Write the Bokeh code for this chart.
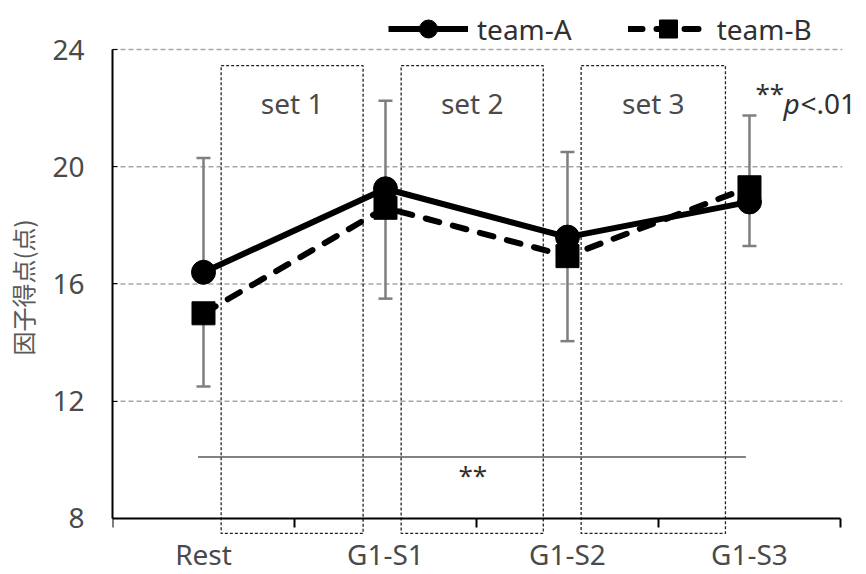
from bokeh.plotting import figure
from bokeh.models import (FixedTicker, Legend, LegendItem, BoxAnnotation, Whisker,
                          ColumnDataSource, Range1d, TeeHead)
from bokeh.core.properties import value
from bokeh.embed import file_html
from bokeh.resources import INLINE

# --- data -------------------------------------------------------------
categories = ["Rest", "G1-S1", "G1-S2", "G1-S3"]
team_a = [16.4, 19.25, 17.6, 18.8]
team_b = [15.0, 18.6, 16.95, 19.3]
team_a_err_up = [3.9, 3.0, 2.9, 2.95]
team_b_err_down = [2.5, 3.1, 2.9, 2.0]
y_ticks = [8, 12, 16, 20, 24]
set_labels = ["set 1", "set 2", "set 3"]
series_labels = ["team-A", "team-B"]
y_label = "因子得点(点)"
sig_mark = "**"

# --- styling ----------------------------------------------------------
LATIN = value("Noto Sans")
CJK = "Noto Sans CJK JP"
TEXT = "#4a4a4a"
DARK = "#303030"
ERR = "#7f7f7f"

xs = [i + 0.5 for i in range(len(categories))]
y_min, y_max = y_ticks[0], y_ticks[-1]

# frame covers the full canvas height; the x axis sits at y = 8
p = figure(width=866, height=574, x_range=Range1d(0, 4.143), y_range=Range1d(6.089, 25.672),
           output_backend="svg", toolbar_location=None,
           min_border_left=112, min_border_right=0, min_border_top=0, min_border_bottom=0,
           outline_line_color=None, background_fill_color="white", border_fill_color="white")
p.grid.visible = False

# y axis
ya = p.yaxis[0]
ya.ticker = FixedTicker(ticks=y_ticks)
ya.bounds = (y_min, y_max)
ya.axis_line_width = 2
ya.axis_line_color = "black"
ya.major_tick_in = 5
ya.major_tick_out = 0
ya.major_tick_line_color = "black"
ya.minor_tick_line_color = None
ya.major_label_standoff = 28
ya.major_label_text_font = "Noto Sans"
ya.major_label_text_font_size = "28px"
ya.major_label_text_color = TEXT
ya.axis_label = y_label
ya.axis_label_text_font = CJK
ya.axis_label_text_font_size = "24px"
ya.axis_label_text_font_style = "normal"
ya.axis_label_text_color = "#595959"
ya.axis_label_standoff = 9

# x axis: labels at category centres, tick marks at category boundaries
xa = p.xaxis[0]
xa.fixed_location = y_min
xa.ticker = FixedTicker(ticks=xs, minor_ticks=list(range(len(categories) + 1)))
xa.major_label_overrides = {x: c for x, c in zip(xs, categories)}
xa.bounds = (0, len(categories))
xa.axis_line_width = 2
xa.axis_line_color = "black"
xa.major_tick_line_color = None
xa.major_tick_in = 0
xa.major_tick_out = 0
xa.minor_tick_in = 0
xa.minor_tick_out = 9
xa.minor_tick_line_width = 2
xa.minor_tick_line_color = "black"
xa.major_label_standoff = 8
xa.major_label_text_font = "Noto Sans"
xa.major_label_text_font_size = "28px"
xa.major_label_text_color = TEXT

# dashed horizontal grid lines
p.segment(x0=0, x1=len(categories) + 0.01, y0=y_ticks[1:], y1=y_ticks[1:],
          line_color="#a6a6a6", line_width=1.3, line_dash="5 3", level="underlay")

# dotted boxes marking the three sets
set_bounds = [(0.597, 1.377), (1.586, 2.367), (2.575, 3.368)]
for (l, r) in set_bounds:
    p.add_layout(BoxAnnotation(left=l, right=r, top=23.45, bottom=7.49,
                               fill_color=None, fill_alpha=0, line_color="#222222",
                               line_alpha=1, line_width=1.3, line_dash="3 2",
                               level="underlay"))
p.text(x=[(l + r) / 2 for l, r in set_bounds], y=[22.16] * 3, text=set_labels,
       text_font=LATIN, text_font_size="28px", text_color=TEXT,
       text_align="center", text_baseline="alphabetic")

# error bars (team-A upward, team-B downward)
src_a = ColumnDataSource(dict(x=xs, lower=team_a,
                              upper=[v + e for v, e in zip(team_a, team_a_err_up)]))
src_b = ColumnDataSource(dict(x=xs, upper=team_b,
                              lower=[v - e for v, e in zip(team_b, team_b_err_down)]))
p.add_layout(Whisker(source=src_a, base="x", lower="lower", upper="upper",
                     line_color=ERR, line_width=2.5, lower_head=None,
                     upper_head=TeeHead(size=14, line_color=ERR, line_width=2.5),
                     level="underlay"))
p.add_layout(Whisker(source=src_b, base="x", lower="lower", upper="upper",
                     line_color=ERR, line_width=2.5, upper_head=None,
                     lower_head=TeeHead(size=14, line_color=ERR, line_width=2.5),
                     level="underlay"))

# series
la = p.line(xs, team_a, line_color="black", line_width=6)
sa = p.scatter(xs, team_a, marker="circle", size=24, color="black")
lb = p.line(xs, team_b, line_color="black", line_width=6, line_dash="14 14", line_cap="round")
sb = p.scatter(xs, team_b, marker="square", size=23, color="black")

# significance bracket
p.segment(x0=[0.47], x1=[3.48], y0=[10.1], y1=[10.1], line_color="#595959", line_width=1.5)
p.text(x=[1.98], y=[9.5], text=[sig_mark], text_font=LATIN, text_font_size="26px",
       text_color=DARK, text_align="center", text_baseline="alphabetic")

# "**p<.01" note
p.text(x=[3.533], y=[22.5], text=[sig_mark], text_font=LATIN, text_font_size="26px",
       text_color=DARK, text_align="left", text_baseline="alphabetic")
p.text(x=[3.687], y=[22.16], text=["p"], text_font=LATIN, text_font_size="28px",
       text_font_style="italic", text_color=DARK, text_align="left",
       text_baseline="alphabetic")
p.text(x=[3.78], y=[22.16], text=["<.01"], text_font=LATIN, text_font_size="28px",
       text_color=DARK, text_align="left", text_baseline="alphabetic")

legend = Legend(items=[LegendItem(label=series_labels[0], renderers=[la, sa]),
                       LegendItem(label=series_labels[1], renderers=[lb, sb])],
                orientation="horizontal", location=(276, 523),
                glyph_width=80, glyph_height=45, label_standoff=9, spacing=56,
                padding=0, margin=0, border_line_color=None, background_fill_alpha=0,
                label_text_font="Noto Sans", label_text_font_size="28px",
                label_text_color=DARK)
p.add_layout(legend)

open("out.html", "w").write(file_html(p, INLINE))
